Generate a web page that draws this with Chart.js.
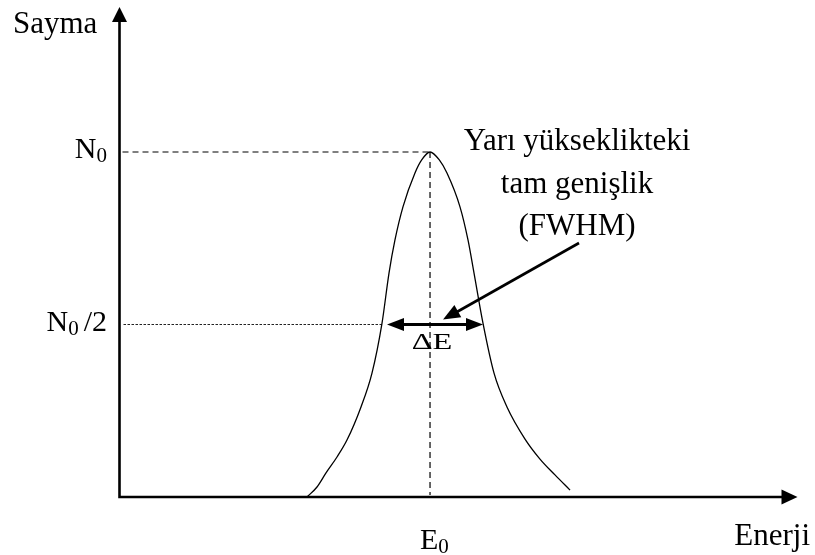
<!DOCTYPE html>
<html>
<head>
<meta charset="utf-8">
<script src="https://cdn.jsdelivr.net/npm/chart.js@4/dist/chart.umd.min.js"></script>
<style>
  html, body { margin: 0; padding: 0; background: #fff; }
  #wrap { width: 815px; height: 555px; position: relative; }
</style>
</head>
<body>
<div id="wrap"><canvas id="c" width="815" height="555"></canvas></div>
<script>
// Photopeak: energy (arbitrary units) vs. count normalised to the peak height N0
const energy = [27.65, 29.13, 30.46, 32.08, 33.55, 35.62, 37.24, 38.72, 39.75, 40.63, 41.81, 43.58, 44.57,
                45.80,
                47.17, 48.30, 50.22, 51.40, 52.29, 53.61, 55.24, 57.15, 59.81, 62.02, 64.23, 66.45];
const counts = [0.000, 0.029, 0.070, 0.116, 0.165, 0.261, 0.359, 0.504, 0.649, 0.745, 0.841, 0.939, 0.977,
                1.000,
                0.977, 0.939, 0.841, 0.745, 0.649, 0.504, 0.359, 0.261, 0.168, 0.110, 0.064, 0.020];

// Characteristic values of the peak
const peakEnergy = 45.80;            // E0
const peakCount = 1.0;               // N0
const halfCount = 0.5;               // N0/2
const halfEnergies = [38.72, 53.61]; // half-maximum crossings (FWHM = ΔE)

// Axis ranges
const energyRange = [0, 100];
const countRange = [0, 1.42];

// Labels
const yTitle = 'Sayma';
const xTitle = 'Enerji';
const peakLabel = ['E', '0'];
const levelLabels = [
  { value: peakCount, parts: ['N', '0', ''] },
  { value: halfCount, parts: ['N', '0', '/2'] }
];
const fwhmText = ['Yarı yükseklikteki', 'tam genişlik', '(FWHM)'];
const deltaText = 'ΔE';

const SERIF = '"Liberation Serif", "Times New Roman", serif';
const f = px => px + 'px ' + SERIF;

function arrowHead(ctx, tx, ty, fx, fy, len, wid) {
  const a = Math.atan2(ty - fy, tx - fx);
  const c = Math.cos(a), s = Math.sin(a);
  ctx.beginPath();
  ctx.moveTo(tx, ty);
  ctx.lineTo(tx - len * c + wid / 2 * s, ty - len * s - wid / 2 * c);
  ctx.lineTo(tx - len * c - wid / 2 * s, ty - len * s + wid / 2 * c);
  ctx.closePath();
  ctx.fill();
}

// Text with a lowered, smaller subscript and an optional suffix
function subText(ctx, main, sub, suffix, x, y, align) {
  ctx.textAlign = 'left';
  ctx.textBaseline = 'alphabetic';
  ctx.font = f(30); const w1 = ctx.measureText(main).width;
  ctx.font = f(21); const w2 = ctx.measureText(sub).width;
  ctx.font = f(30); const gap = suffix ? 5 : 0; const w3 = suffix ? ctx.measureText(suffix).width : 0;
  const total = w1 + w2 + gap + w3;
  let cx = align === 'right' ? x - total : align === 'center' ? x - total / 2 : x;
  ctx.font = f(30); ctx.fillText(main, cx, y); cx += w1;
  ctx.font = f(21); ctx.fillText(sub, cx, y + 4); cx += w2 + gap;
  if (suffix) { ctx.font = f(30); ctx.fillText(suffix, cx, y); }
}

const background = {
  id: 'background',
  beforeDraw(chart) {
    const ctx = chart.ctx;
    ctx.save();
    ctx.fillStyle = '#ffffff';
    ctx.fillRect(0, 0, chart.width, chart.height);
    ctx.restore();
  }
};

// Guide lines from the axes to the peak and to the half-maximum level
const guides = {
  id: 'guides',
  beforeDatasetsDraw(chart) {
    const { ctx, scales: { x, y } } = chart;
    const x0 = x.getPixelForValue(energyRange[0]);
    const y0 = y.getPixelForValue(0);
    const px = x.getPixelForValue(peakEnergy);
    const py = y.getPixelForValue(peakCount);
    const hy = y.getPixelForValue(halfCount);
    const hl = x.getPixelForValue(halfEnergies[0]);
    ctx.save();
    ctx.strokeStyle = '#000';
    ctx.lineWidth = 1.2;
    ctx.setLineDash([6, 4]);
    ctx.beginPath();
    ctx.moveTo(x0 + 3, py); ctx.lineTo(px, py);
    ctx.moveTo(px, py); ctx.lineTo(px, y0 - 2);
    ctx.stroke();
    ctx.strokeStyle = '#222';
    ctx.lineWidth = 1;
    ctx.setLineDash([2.5, 1.5]);
    ctx.beginPath();
    ctx.moveTo(x0 + 4, hy); ctx.lineTo(hl, hy);
    ctx.stroke();
    ctx.restore();
  }
};

// Axes with arrow heads, labels and the FWHM annotation
const annotations = {
  id: 'annotations',
  afterDatasetsDraw(chart) {
    const { ctx, chartArea: ca, scales: { x, y } } = chart;
    const x0 = x.getPixelForValue(energyRange[0]);
    const y0 = y.getPixelForValue(0);
    const px = x.getPixelForValue(peakEnergy);
    const py = y.getPixelForValue(peakCount);
    const hy = y.getPixelForValue(halfCount);
    const hl = x.getPixelForValue(halfEnergies[0]);
    const hr = x.getPixelForValue(halfEnergies[1]);

    ctx.save();
    ctx.fillStyle = '#000';
    ctx.strokeStyle = '#000';
    ctx.setLineDash([]);

    // axes
    ctx.lineWidth = 2.6;
    ctx.beginPath();
    ctx.moveTo(x0, y0 + 1.3); ctx.lineTo(x0, ca.top + 12);
    ctx.moveTo(x0 - 1.3, y0); ctx.lineTo(ca.right - 12, y0);
    ctx.stroke();
    arrowHead(ctx, x0, ca.top, x0, y0, 15, 15);
    arrowHead(ctx, ca.right, y0, x0, y0, 16, 15);

    // axis titles
    ctx.font = f(31);
    ctx.textBaseline = 'alphabetic';
    ctx.textAlign = 'left';
    ctx.fillText(yTitle, x0 - 106.5, ca.top + 26);
    ctx.textAlign = 'right';
    ctx.fillText(xTitle, ca.right + 12.5, y0 + 48);

    // level labels on the count axis
    levelLabels.forEach(l => {
      const ly = y.getPixelForValue(l.value);
      subText(ctx, l.parts[0], l.parts[1], l.parts[2], x0 - 12.5, ly + 6, 'right');
    });
    // peak position on the energy axis
    subText(ctx, peakLabel[0], peakLabel[1], '', px - 10, y0 + 52, 'left');

    // FWHM double arrow
    ctx.lineWidth = 3;
    ctx.beginPath();
    ctx.moveTo(hl + 18, hy); ctx.lineTo(hr - 14, hy);
    ctx.stroke();
    arrowHead(ctx, hl + 5, hy, hr, hy, 17, 13);
    arrowHead(ctx, hr, hy, hl, hy, 17, 13);

    // ΔE label
    ctx.save();
    ctx.font = f(24);
    ctx.textAlign = 'center';
    ctx.translate(px + 2, hy + 24);
    ctx.scale(1.35, 1);
    ctx.fillText(deltaText, 0, 0);
    ctx.restore();

    // annotation text
    ctx.font = f(31);
    ctx.textAlign = 'center';
    const tx = px + 147;
    ctx.fillText(fwhmText[0], tx, py - 2);
    ctx.fillText(fwhmText[1], tx, py + 41);
    ctx.fillText(fwhmText[2], tx, py + 83);

    // pointer from the annotation to ΔE
    const sx = px + 149, sy = py + 91;
    const ex = px + 13, ey = hy - 5;
    ctx.lineWidth = 2.6;
    ctx.beginPath();
    ctx.moveTo(sx, sy); ctx.lineTo(ex + 12, ey - 6.5);
    ctx.stroke();
    arrowHead(ctx, ex, ey, sx, sy, 17, 14);
    ctx.restore();
  }
};

new Chart(document.getElementById('c'), {
  type: 'line',
  data: {
    datasets: [{
      data: energy.map((e, i) => ({ x: e, y: counts[i] })),
      borderColor: '#000',
      borderWidth: 1.3,
      pointRadius: 0,
      fill: false,
      cubicInterpolationMode: 'monotone'
    }]
  },
  options: {
    responsive: false,
    animation: false,
    events: [],
    layout: { padding: { left: 119.5, right: 17.5, top: 7.1, bottom: 58 } },
    scales: {
      x: { type: 'linear', min: energyRange[0], max: energyRange[1], display: false },
      y: { type: 'linear', min: countRange[0], max: countRange[1], display: false }
    },
    plugins: { legend: { display: false }, tooltip: { enabled: false } }
  },
  plugins: [background, guides, annotations]
});
</script>
</body>
</html>
